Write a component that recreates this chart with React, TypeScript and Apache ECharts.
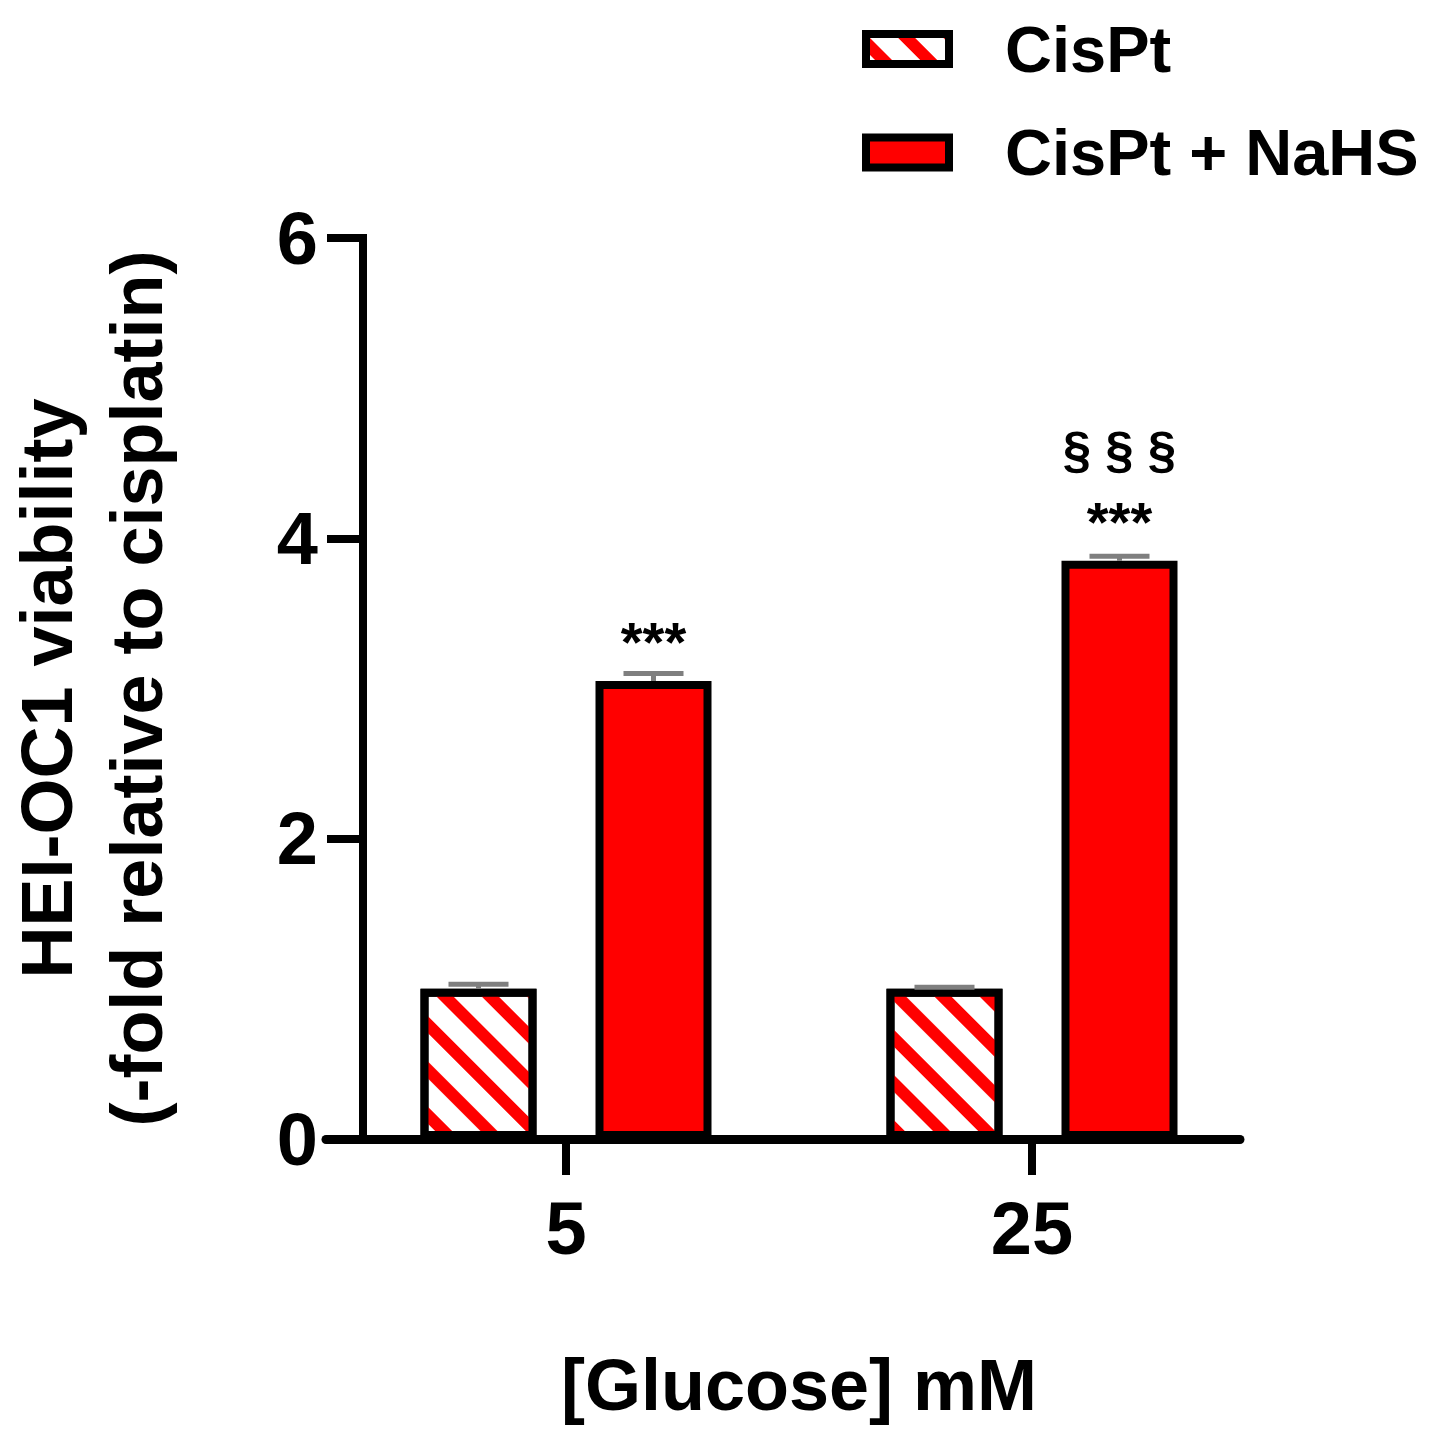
import React, { useEffect, useRef } from "react";
import * as echarts from "echarts";

const categories = ["5", "25"];
const seriesNames = ["CisPt", "CisPt + NaHS"];
const cisPtMean = [1.0, 1.0];
const cisPtUpper = [1.03, 1.01];
const nahsMean = [3.05, 3.85];
const nahsUpper = [3.1, 3.88];
const nahsMarks = ["***", "§ § §\n***"];
const yMin = 0;
const yMax = 6;
const yInterval = 2;

const FONT = "Liberation Sans, Arial, Helvetica, sans-serif";
const BAR_W = 116;
const BAR_GAP_PX = 59;
const OFFSET = (BAR_W * 2 + BAR_GAP_PX) / 2 - BAR_W / 2;

export default function App() {
  const ref = useRef<HTMLDivElement>(null);
  useEffect(() => {
    document.body.style.margin = "0";
    const chart = echarts.init(ref.current!, null, { renderer: "svg" });
    const errData: number[][] = [];
    categories.forEach((_, i) => {
      errData.push([i, cisPtMean[i], cisPtUpper[i], 0]);
      errData.push([i, nahsMean[i], nahsUpper[i], 1]);
    });
    const option: any = {
      animation: false,
      backgroundColor: "#fff",
      textStyle: { fontFamily: FONT },
      legend: {
        data: seriesNames,
        orient: "vertical",
        left: 862,
        top: 16.5,
        padding: 0,
        itemGap: 38.5,
        itemWidth: 83,
        itemHeight: 30,
        icon: "rect",
        selectedMode: false,
        itemStyle: { borderWidth: 8, borderColor: "#000" },
        textStyle: {
          fontFamily: FONT,
          fontSize: 65,
          fontWeight: "bold",
          color: "#000",
          lineHeight: 65,
          padding: [0, 0, 0, 51],
        },
      },
      grid: [
        {
          left: 333,
          right: 172,
          top: 238,
          bottom: 305,
          containLabel: false,
          outerBoundsMode: "none",
        },
        {
          left: 326,
          right: 197,
          top: 238,
          bottom: 305,
          containLabel: false,
          outerBoundsMode: "none",
        },
      ],
      xAxis: [
        {
          type: "category",
          gridIndex: 0,
          data: categories,
          axisLine: { show: false },
          axisTick: {
            show: true,
            alignWithLabel: true,
            length: 36,
            lineStyle: { color: "#000", width: 8 },
          },
          axisLabel: {
            margin: 52,
            fontFamily: FONT,
            fontSize: 74,
            fontWeight: "bold",
            color: "#000",
            lineHeight: 74,
          },
          name: "[Glucose] mM",
          nameLocation: "middle",
          nameGap: 210,
          nameTextStyle: {
            fontFamily: FONT,
            fontSize: 72,
            fontWeight: "bold",
            color: "#000",
            lineHeight: 72,
          },
        },
        {
          type: "value",
          gridIndex: 1,
          min: 0,
          max: 1,
          axisLine: { show: true, lineStyle: { color: "#000", width: 9 } },
          axisTick: { show: false },
          axisLabel: { show: false },
          splitLine: { show: false },
        },
      ],
      yAxis: [
        {
          type: "value",
          gridIndex: 0,
          min: yMin,
          max: yMax,
          interval: yInterval,
          offset: -30,
          axisLine: {
            show: true,
            lineStyle: { color: "#000", width: 8, cap: "square" },
          },
          axisTick: {
            show: true,
            length: 36,
            lineStyle: { color: "#000", width: 8 },
          },
          splitLine: { show: false },
          axisLabel: {
            margin: 45,
            fontFamily: FONT,
            fontSize: 74,
            fontWeight: "bold",
            color: "#000",
          },
          name: "HEI-OC1 viability\n(-fold relative to cisplatin)",
          nameLocation: "middle",
          nameRotate: 90,
          nameGap: 181,
          nameTextStyle: {
            fontFamily: FONT,
            fontSize: 72,
            fontWeight: "bold",
            color: "#000",
            lineHeight: 90,
            align: "center",
          },
        },
        {
          type: "value",
          gridIndex: 1,
          min: 0,
          max: 1,
          show: false,
        },
      ],
      series: [
        {
          name: seriesNames[0],
          type: "bar",
          xAxisIndex: 0,
          yAxisIndex: 0,
          data: cisPtMean,
          barWidth: BAR_W,
          barGap: (BAR_GAP_PX / BAR_W) * 100 + "%",
          itemStyle: {
            color: "#ffffff",
            borderColor: "#000",
            borderWidth: 8,
            decal: {
              symbol: "rect",
              symbolSize: 1,
              color: "#ff0000",
              dashArrayX: [1, 0],
              dashArrayY: [12, 20],
              rotation: Math.PI / 4,
            },
          },
        },
        {
          name: seriesNames[1],
          type: "bar",
          xAxisIndex: 0,
          yAxisIndex: 0,
          data: nahsMean,
          barWidth: BAR_W,
          itemStyle: { color: "#ff0000", borderColor: "#000", borderWidth: 8 },
          label: {
            show: true,
            position: "top",
            distance: 12,
            formatter: (p: any) =>
              nahsMarks[p.dataIndex]
                .split("\n")
                .map((l) => (l.startsWith("§") ? `{s|${l}}` : `{a|${l}}`))
                .join("\n"),
            rich: {
              a: {
                fontFamily: FONT,
                fontSize: 56,
                fontWeight: "bold",
                lineHeight: 55,
                color: "#000",
              },
              s: {
                fontFamily: FONT,
                fontSize: 51,
                fontWeight: "bold",
                lineHeight: 87,
                color: "#000",
              },
            },
          },
        },
        {
          type: "custom",
          xAxisIndex: 0,
          yAxisIndex: 0,
          z: 5,
          data: errData,
          renderItem: (params: any, api: any) => {
            const cat = api.value(0);
            const mean = api.value(1);
            const upper = api.value(2);
            const s = api.value(3);
            const off = s === 0 ? -OFFSET : OFFSET;
            const top = api.coord([cat, upper]);
            const base = api.coord([cat, mean]);
            const x = top[0] + off;
            const st = { stroke: "#7f7f7f", lineWidth: 5 };
            return {
              type: "group",
              children: [
                {
                  type: "line",
                  shape: { x1: x, y1: base[1], x2: x, y2: top[1] },
                  style: st,
                },
                {
                  type: "line",
                  shape: { x1: x - 30, y1: top[1], x2: x + 30, y2: top[1] },
                  style: st,
                },
              ],
            };
          },
        },
      ],
    };
    chart.setOption(option);
    return () => chart.dispose();
  }, []);
  return <div ref={ref} style={{ width: 1437, height: 1444 }} />;
}
